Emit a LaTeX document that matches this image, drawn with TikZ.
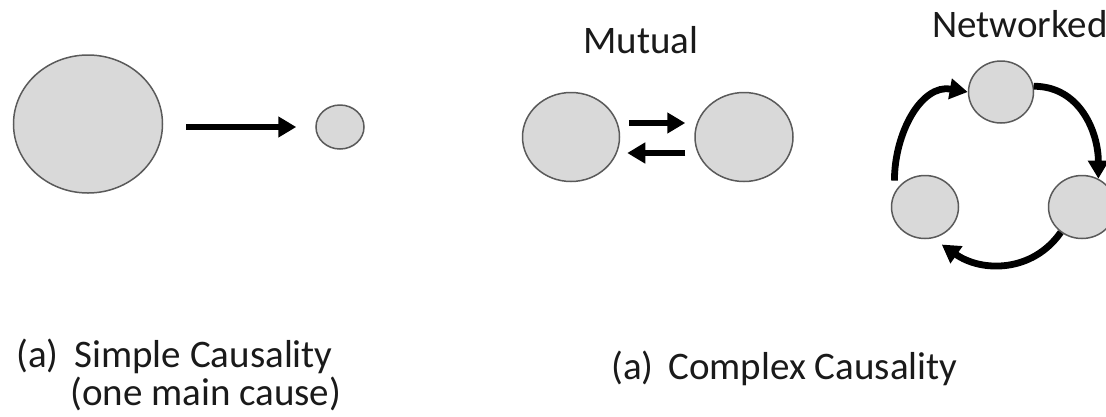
\documentclass[tikz,border=0pt]{standalone}
\usepackage{fontspec}
\setmainfont{Carlito}
\usetikzlibrary{arrows.meta,shapes.geometric}
\definecolor{circFill}{HTML}{D9D9D9}
\definecolor{circEdge}{HTML}{5A5A5A}
\definecolor{textCol}{HTML}{1A1A1A}
\begin{document}
\begin{tikzpicture}[x=1pt,y=1pt,
  ball/.style={ellipse, draw=circEdge, fill=circFill, line width=1.5pt, inner sep=0pt},
  arr/.style={line width=6.8pt, -{Triangle[length=18pt,width=20pt]}},
  lbl/.style={anchor=base west, inner sep=0pt, font=\fontsize{39}{44}\selectfont, text=textCol}]
\fill[white] (0,0) rectangle (1106,-416);
\useasboundingbox (0,0) rectangle (1106,-416);
% simple causality
\node[ball, minimum width=149pt, minimum height=138pt] (big) at (88,-124) {};
\node[ball, minimum width=48pt, minimum height=44pt] (small) at (340,-127) {};
\draw[arr] ([shift={(23pt,-3pt)}]big.east) -- ([xshift=-19pt]small.west);
% mutual
\node[ball, minimum width=97pt, minimum height=89pt] (m1) at (571,-137) {};
\node[ball, minimum width=98pt, minimum height=89pt] (m2) at (744,-137) {};
\draw[arr] ([shift={(9pt,14pt)}]m1.east) -- ([shift={(-9pt,14pt)}]m2.west);
\draw[arr] ([shift={(-9pt,-16pt)}]m2.west) -- ([shift={(7pt,-16pt)}]m1.east);
% networked
\node[ball, minimum width=65pt, minimum height=62pt] (nt) at (1001,-92) {};
\node[ball, minimum width=67pt, minimum height=63pt] (nl) at (925,-207) {};
\node[ball, minimum width=67pt, minimum height=63pt] (nr) at (1082,-207) {};
\draw[arr] ([shift={(-5pt,5pt)}]nl.140) to[out=90,in=170,looseness=1.05] (nt.west);
\draw[arr] (nt.10) to[out=0,in=90,looseness=1.05] (nr.60);
\draw[arr] (nr.230) to[out=-125,in=-35,looseness=1.05] ([shift={(3pt,-8pt)}]nl.-65);
% labels
\node[lbl] (mut) at (583,-53) {Mutual};
\node[lbl] (net) at (932,-37) {Networked};
\node[lbl] (simp) at (16,-367) {(a)\hspace{16pt}Simple Causality};
\node[lbl] (simp2) at (70,-405) {(one main cause)};
\node[lbl] (comp) at (611,-379) {(a)\hspace{15pt}Complex Causality};
\end{tikzpicture}
\end{document}
